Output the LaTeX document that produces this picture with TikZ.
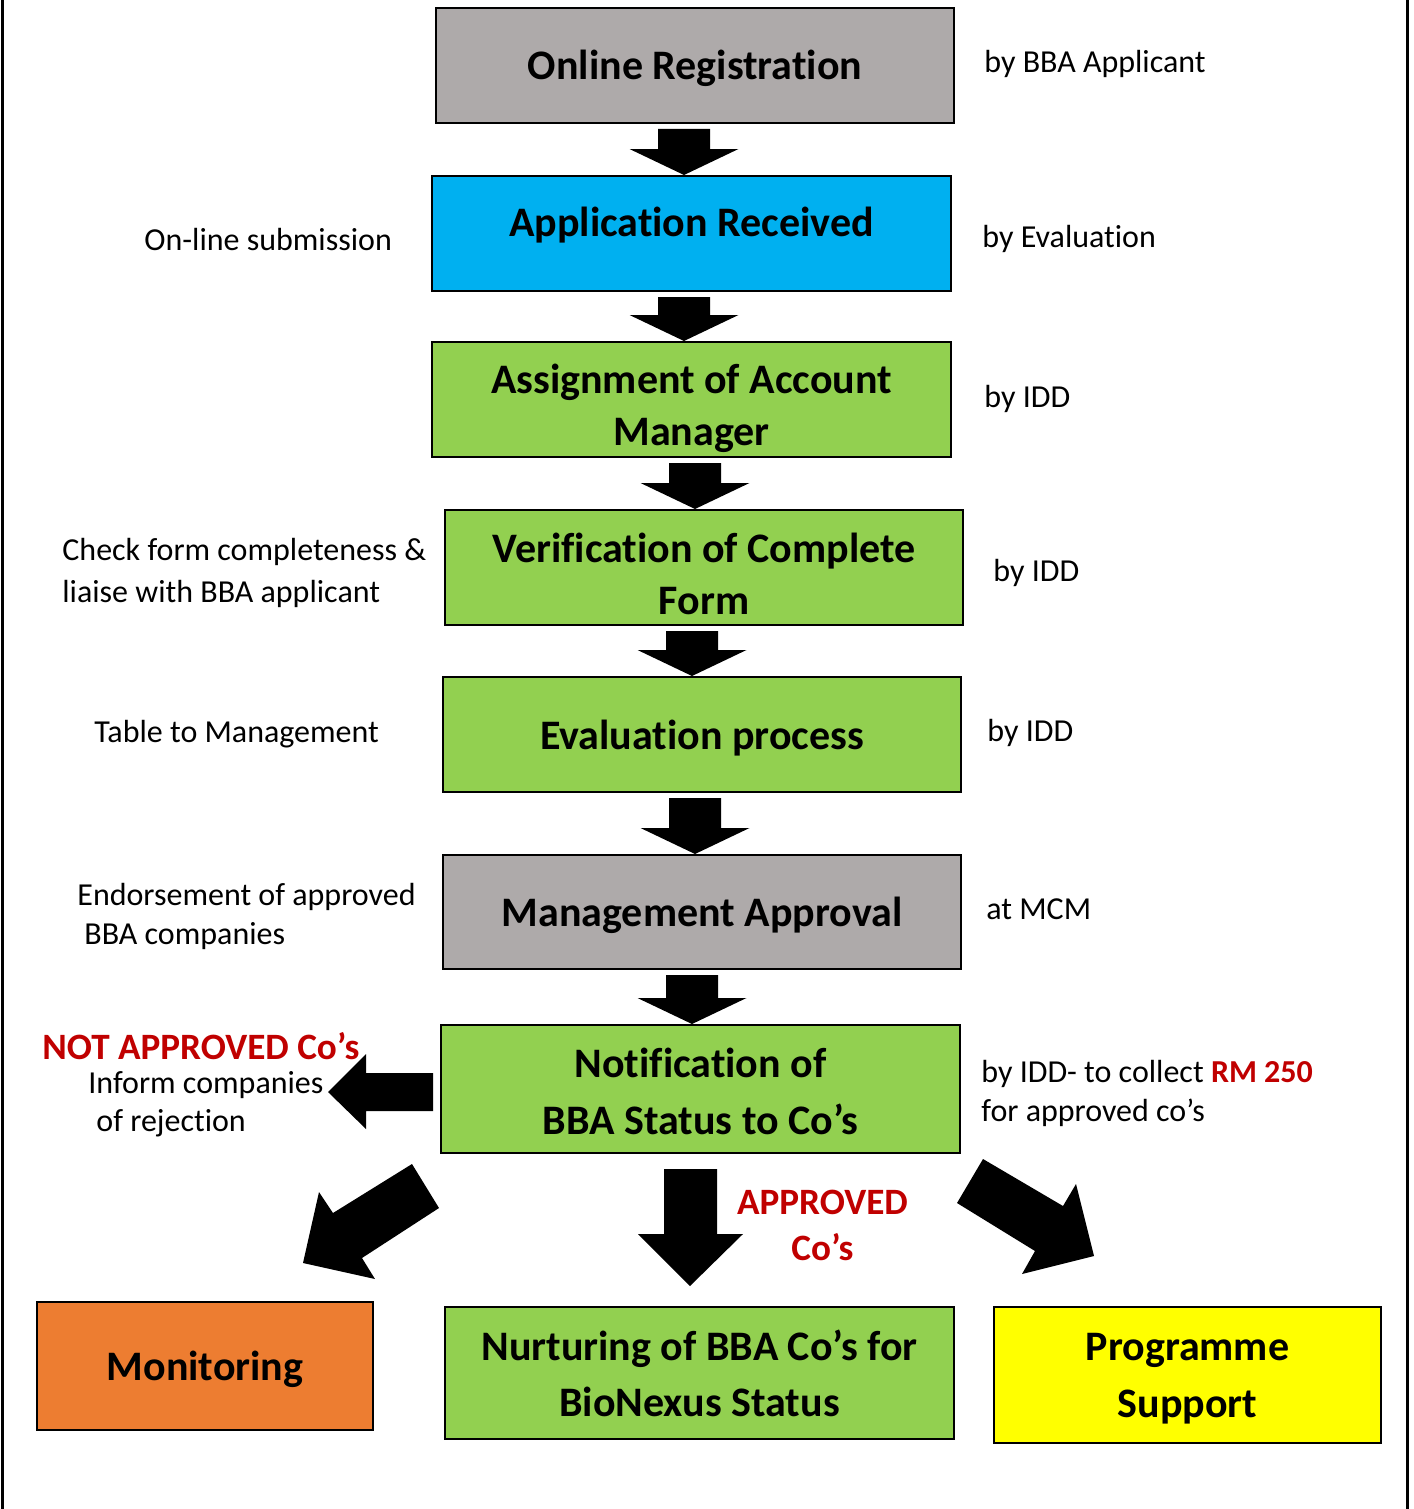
\documentclass[tikz,border=0pt]{standalone}
\usepackage{fontspec}
\setmainfont{Carlito}[Ligatures={TeX,NoCommon}]
\usetikzlibrary{calc}

\definecolor{boxgrey}{HTML}{AEAAAA}
\definecolor{appblue}{HTML}{00B0F0}
\definecolor{stepgreen}{HTML}{92D050}
\definecolor{monorange}{HTML}{ED7D31}
\definecolor{supyellow}{HTML}{FFFF00}
\definecolor{notred}{HTML}{C00000}

% down block arrow: #1 = x of the shaft centre, #2 = upper node, #3 = lower node
\newcommand{\downblock}[3]{%
  \coordinate (ax) at (#1,0);
  \coordinate (at) at (ax |- #2.south);
  \coordinate (ap) at (ax |- #3.north);
  \fill[blockarrow] ($(at)+(-26,5)$) -- ($(at)+(26,5)$) -- ($(ap)+(26,-26)$) -- ($(ap)+(54.5,-26)$)
    -- (ap) -- ($(ap)+(-54.5,-26)$) -- ($(ap)+(-26,-26)$) -- cycle;
}

\begin{document}
\begin{tikzpicture}[x=0.5pt,y=-0.5pt,
    box/.style={draw=black, line width=1pt, inner sep=0pt},
    boxtxt/.style={inner sep=0pt, align=center, font=\fontsize{21}{26}\selectfont\bfseries},
    note/.style={anchor=west, inner sep=0pt, align=left, font=\fontsize{16}{20}\selectfont},
    redtxt/.style={inner sep=0pt, text=notred, align=center, font=\fontsize{18.6}{23}\selectfont\bfseries},
    blockarrow/.style={fill=black}]
  \useasboundingbox (0,0) rectangle (1413,1509);
  \draw[line width=1.5pt] (2.5,0) -- (2.5,1509);
  \draw[line width=1.5pt] (1407.5,0) -- (1407.5,1509);

  % main steps
  \node[box, fill=boxgrey, minimum width=259pt, minimum height=57.5pt,
    label={[boxtxt, yshift=-1.5pt]center:Online Registration}] (reg) at (695,65.5) {};
  \node[box, fill=appblue, minimum width=259.5pt, minimum height=57.5pt,
    label={[boxtxt, yshift=4.25pt]center:Application Received}] (recv) at (691.5,233.5) {};
  \node[box, fill=stepgreen, minimum width=259.5pt, minimum height=57.5pt,
    label={[boxtxt, yshift=-4.25pt]center:Assignment of Account\\Manager}] (assign) at (691.5,399.5) {};
  \node[box, fill=stepgreen, minimum width=259pt, minimum height=57.5pt,
    label={[boxtxt, yshift=-3.25pt]center:Verification of Complete\\Form}] (verif) at (704,567.5) {};
  \node[box, fill=stepgreen, minimum width=259pt, minimum height=57.5pt,
    label={[boxtxt, yshift=-2pt]center:Evaluation process}] (evalp) at (702,734.5) {};
  \node[box, fill=boxgrey, minimum width=259pt, minimum height=57pt,
    label={[boxtxt, yshift=-1.5pt]center:Management Approval}] (mgmt) at (702,912) {};
  \node[box, fill=stepgreen, minimum width=259.5pt, minimum height=64pt,
    label={[boxtxt, font=\fontsize{21}{28.5}\selectfont\bfseries, yshift=-1pt]center:Notification of\\BBA Status to Co’s}] (notif) at (700.5,1089) {};
  \node[box, fill=monorange, minimum width=168pt, minimum height=64pt,
    label={[boxtxt, yshift=-1.5pt]center:Monitoring}] (monit) at (205,1366) {};
  \node[box, fill=stepgreen, minimum width=254.5pt, minimum height=66pt,
    label={[boxtxt, font=\fontsize{21}{28}\selectfont\bfseries]center:Nurturing of BBA Co’s for\\BioNexus Status}] (nurt) at (699.5,1373) {};
  \node[box, fill=supyellow, minimum width=193.5pt, minimum height=68pt,
    label={[boxtxt, font=\fontsize{21}{28.5}\selectfont\bfseries, yshift=-2pt]center:Programme\\Support}] (prog) at (1187.5,1375) {};

  % side notes
  \node[note] (bybba) at (984,64) {by BBA Applicant};
  \node[note] (online) at (144,240) {On-line submission};
  \node[note] (byeval) at (982,239) {by Evaluation};
  \node[note] (byidda) at (984,399) {by IDD};
  \node[note, font=\fontsize{16}{21}\selectfont] (check) at (62,573) {Check form completeness \&\\liaise with BBA applicant};
  \node[note] (byiddb) at (993,573) {by IDD};
  \node[note] (table) at (94,734) {Table to Management};
  \node[note] (byiddc) at (987,733) {by IDD};
  \node[note, font=\fontsize{16}{19.5}\selectfont] (endorse) at (77,916) {Endorsement of approved\\\hspace*{3.5pt}BBA companies};
  \node[note] (atmcm) at (986,909) {at MCM};
  \node[redtxt, anchor=west] (notappr) at (42,1046) {NOT APPROVED Co’s};
  \node[note, font=\fontsize{16}{19}\selectfont] (inform) at (88,1104) {Inform companies\\\hspace*{4pt}of rejection};
  \node[note, font=\fontsize{16}{19.5}\selectfont] (collect) at (981,1093)
    {by IDD- to collect {\bfseries\color{notred}RM 250}\\for approved co’s};
  \node[redtxt] (appr) at (822.5,1225) {APPROVED\\Co’s};

  % block arrows
  \downblock{684}{reg}{recv}
  \downblock{684}{recv}{assign}
  \downblock{695}{assign}{verif}
  \downblock{692}{verif}{evalp}
  \downblock{695}{evalp}{mgmt}
  \downblock{692}{mgmt}{notif}
  \coordinate (lt) at (notif.west |- 0,1092);
  \fill[blockarrow] ($(lt)+(-7,-19)$) -- ($(lt)+(-74,-19)$) -- ($(lt)+(-74,-38)$) -- ($(lt)+(-112,0)$)
    -- ($(lt)+(-74,37)$) -- ($(lt)+(-74,19)$) -- ($(lt)+(-7,19)$) -- cycle;
  \fill[blockarrow] (412,1164) -- (439,1208) -- (362,1258) -- (375,1279) -- (303,1263) -- (319,1192) -- (333,1213) -- cycle;
  \fill[blockarrow] (664,1169) -- (717,1169) -- (717,1234) -- (743,1234) -- (690,1286) -- (638,1234) -- (664,1234) -- cycle;
  \fill[blockarrow] (983,1159) -- (957,1203) -- (1035,1251) -- (1022,1274) -- (1094,1256) -- (1076,1184) -- (1063,1206) -- cycle;
\end{tikzpicture}
\end{document}
